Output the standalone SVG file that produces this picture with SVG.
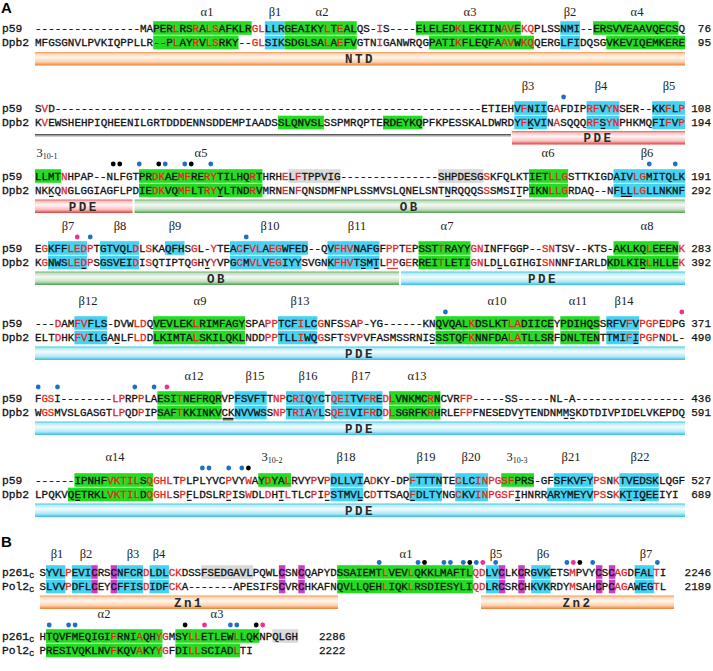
<svg xmlns="http://www.w3.org/2000/svg" width="713" height="671" viewBox="0 0 713 671">
<defs>
<style>
.s{font-family:"Liberation Mono","DejaVu Sans Mono",monospace;fill:#111;stroke:#111;stroke-width:0.3px}
.r{fill:#E4261E;stroke:#E4261E}
.nm{font-family:"Liberation Mono",monospace;font-size:11.3px;fill:#111;stroke:#111;stroke-width:0.3px}
.num{font-family:"Liberation Mono",monospace;font-size:11px;text-anchor:end;fill:#111;stroke:#111;stroke-width:0.25px}
.num2{font-family:"Liberation Mono",monospace;font-size:11px;fill:#111;stroke:#111;stroke-width:0.25px}
.ss{font-family:"Liberation Serif",serif;font-size:12.5px;text-anchor:middle;fill:#222}
.bl{font-family:"Liberation Mono",monospace;font-size:12.5px;font-weight:bold;letter-spacing:2.5px;text-anchor:middle;fill:#2a2a2a}
.pl{font-family:"Liberation Sans",Arial,sans-serif;font-size:15px;font-weight:bold;fill:#000}
.hg{fill:#22DD22}.hc{fill:#45D3F3}.hm{fill:#C63FC6}.hy{fill:#D9D9D9}
.db{fill:#1F70C1}.dk{fill:#000}.dm{fill:#F0308F}
.ul{fill:#000}
</style>
<linearGradient id="gOr" x1="0" y1="0" x2="0" y2="1"><stop offset="0" stop-color="#F29A50"/><stop offset="0.15" stop-color="#FBD8BC"/><stop offset="0.4" stop-color="#FFF6EE"/><stop offset="0.75" stop-color="#FAD0AE"/><stop offset="1" stop-color="#EF7D28"/></linearGradient>
<linearGradient id="gRd" x1="0" y1="0" x2="0" y2="1"><stop offset="0" stop-color="#EE5A5A"/><stop offset="0.15" stop-color="#F9C4C4"/><stop offset="0.4" stop-color="#FFF5F5"/><stop offset="0.75" stop-color="#F8BDBD"/><stop offset="1" stop-color="#E23A3A"/></linearGradient>
<linearGradient id="gCy" x1="0" y1="0" x2="0" y2="1"><stop offset="0" stop-color="#3CCBEA"/><stop offset="0.15" stop-color="#B6ECF8"/><stop offset="0.4" stop-color="#F4FCFF"/><stop offset="0.75" stop-color="#B4E8F6"/><stop offset="1" stop-color="#2EC0E6"/></linearGradient>
<linearGradient id="gGn" x1="0" y1="0" x2="0" y2="1"><stop offset="0" stop-color="#6CB46C"/><stop offset="0.15" stop-color="#C4E2C4"/><stop offset="0.4" stop-color="#F5FAF5"/><stop offset="0.75" stop-color="#C2DEC2"/><stop offset="1" stop-color="#4E9E4E"/></linearGradient>
</defs>
<rect width="713" height="671" fill="#fff"/>
<text class="pl" x="1" y="13">A</text>

<!-- Block A1 -->
<g id="blockA1" transform="translate(0,28)">
<g transform="translate(35 0) scale(6.566 1)">
<rect class="hg" x="18" y="-6.8" width="15" height="13.6"/><rect class="hc" x="35" y="-6.8" width="3" height="13.6"/><rect class="hg" x="38" y="-6.8" width="11" height="13.6"/><rect class="hg" x="58" y="-6.8" width="16" height="13.6"/><rect class="hc" x="80" y="-6.8" width="3" height="13.6"/><rect class="hg" x="85" y="-6.8" width="13" height="13.6"/>
<rect class="hg" x="18" y="7.7" width="13" height="13.6"/><rect class="hc" x="35" y="7.7" width="3" height="13.6"/><rect class="hg" x="38" y="7.7" width="11" height="13.6"/><rect class="hg" x="60" y="7.7" width="16" height="13.6"/><rect class="hc" x="80" y="7.7" width="3" height="13.6"/><rect class="hg" x="87" y="7.7" width="12" height="13.6"/>
</g>
<text class="ss" x="207" y="-12">α1</text><text class="ss" x="275" y="-12">β1</text><text class="ss" x="322" y="-12">α2</text><text class="ss" x="470" y="-12">α3</text><text class="ss" x="570" y="-12">β2</text><text class="ss" x="637" y="-12">α4</text>
<text class="nm" x="2" y="3.7">p59</text><text class="nm" x="2" y="18.2">Dpb2</text>
<text class="s" x="35" y="3.7" style="font-size:10.94px">----------------MAPER<tspan class="r">L</tspan>RS<tspan class="r">R</tspan>A<tspan class="r">LS</tspan>AFKLR<tspan class="r">GL</tspan>LLRGEAIKY<tspan class="r">L</tspan>T<tspan class="r">E</tspan>ALQS-<tspan class="r">I</tspan>S----ELELED<tspan class="r">K</tspan>LEKIIN<tspan class="r">AV</tspan>E<tspan class="r">KQ</tspan>PLSSNMI--ERSVVEAAVQECSQ</text>
<text class="s" x="35" y="18.2" style="font-size:10.94px">MFGSGNVLPVKIQPPLLR--P<tspan class="r">L</tspan>AY<tspan class="r">R</tspan>V<tspan class="r">LS</tspan>RKY--<tspan class="r">GL</tspan>SIKSDGLSA<tspan class="r">L</tspan>A<tspan class="r">E</tspan>FVGTN<tspan class="r">I</tspan>GANWRQGPATI<tspan class="r">K</tspan>FLEQFA<tspan class="r">AV</tspan>W<tspan class="r">KQ</tspan>QERGLFIDQSGVKEVIQEMKERE</text>
<text class="num" x="711" y="3.7">76</text><text class="num" x="711" y="18.2">95</text>
<rect x="35" y="24" width="650" height="13.5" fill="url(#gOr)"/><text class="bl" x="360" y="35.3">NTD</text>
</g>

<!-- Block A2 -->
<g id="blockA2" transform="translate(0,108)">
<g transform="translate(35 0) scale(6.566 1)">
<rect class="hc" x="73" y="-6.8" width="5" height="13.6"/><rect class="hc" x="84" y="-6.8" width="5" height="13.6"/><rect class="hc" x="94" y="-6.8" width="5" height="13.6"/>
<rect class="hg" x="37" y="7.7" width="7" height="13.6"/><rect class="hg" x="53" y="7.7" width="6" height="13.6"/><rect class="hc" x="73" y="7.7" width="5" height="13.6"/><rect class="hc" x="84" y="7.7" width="5" height="13.6"/><rect class="hc" x="94" y="7.7" width="5" height="13.6"/>
<rect class="ul" x="75.15" y="19.8" width="0.7" height="1.1"/><rect class="ul" x="86.15" y="19.8" width="0.7" height="1.1"/>
</g>
<text class="ss" x="528" y="-18">β3</text><text class="ss" x="601" y="-18">β4</text><text class="ss" x="669" y="-18">β5</text>
<circle class="db" cx="563.6" cy="-11" r="2.4"/>
<text class="nm" x="2" y="3.7">p59</text><text class="nm" x="2" y="18.2">Dpb2</text>
<text class="s" x="35" y="3.7" style="font-size:10.94px">S<tspan class="r">V</tspan>D-----------------------------------------------------------------ETIEHV<tspan class="r">F</tspan>NIIG<tspan class="r">A</tspan>FDIP<tspan class="r">RF</tspan>V<tspan class="r">YN</tspan>SER--KK<tspan class="r">F</tspan>L<tspan class="r">P</tspan></text>
<text class="s" x="35" y="18.2" style="font-size:10.94px">K<tspan class="r">V</tspan>EWSHEHPIQHEENILGRTDDDENNSDDEMPIAADSSLQNVSLSSPMRQPTERDEYKQPFKPESSKALDWRDY<tspan class="r">F</tspan>KVIN<tspan class="r">A</tspan>SQQQ<tspan class="r">RF</tspan>S<tspan class="r">YN</tspan>PHKMQFI<tspan class="r">F</tspan>V<tspan class="r">P</tspan></text>
<text class="num" x="711" y="3.7">108</text><text class="num" x="711" y="18.2">194</text>
<rect x="35" y="26" width="476" height="1.6" fill="#5a5a5a"/><rect x="35" y="27.6" width="476" height="1" fill="#b0b0b0"/>
<rect x="512" y="23" width="173" height="13.5" fill="url(#gRd)"/><text class="bl" x="598.5" y="34.3">PDE</text>
</g>

<!-- Block A3 -->
<g id="blockA3" transform="translate(0,176)">
<g transform="translate(35 0) scale(6.5 1)">
<rect class="hg" x="0" y="-6.8" width="4" height="13.6"/><rect class="hg" x="16" y="-6.8" width="19" height="13.6"/><rect class="hy" x="39" y="-6.8" width="8" height="13.6"/><rect class="hy" x="62" y="-6.8" width="7" height="13.6"/><rect class="hg" x="76" y="-6.8" width="6" height="13.6"/><rect class="hc" x="89" y="-6.8" width="11" height="13.6"/>
<rect class="hg" x="16" y="7.7" width="19" height="13.6"/><rect class="hg" x="76" y="7.7" width="6" height="13.6"/><rect class="hc" x="89" y="7.7" width="11" height="13.6"/>
<rect class="ul" x="2.15" y="19.8" width="0.7" height="1.1"/><rect class="ul" x="28.15" y="19.8" width="0.7" height="1.1"/><rect class="ul" x="63.15" y="19.8" width="0.7" height="1.1"/><rect class="ul" x="74.15" y="19.8" width="0.7" height="1.1"/><rect class="ul" x="90.15" y="19.8" width="1.7" height="1.1"/>
</g>
<text class="ss" x="47" y="-19">3<tspan font-size="8" dy="2">10-1</tspan></text><text class="ss" x="201" y="-19">α5</text><text class="ss" x="548" y="-19">α6</text><text class="ss" x="647" y="-19">β6</text>
<circle class="dk" cx="113.25" cy="-12" r="2.4"/><circle class="dk" cx="119.75" cy="-12" r="2.4"/><circle class="db" cx="139.25" cy="-12" r="2.4"/><circle class="dk" cx="158.75" cy="-12" r="2.4"/><circle class="db" cx="165.25" cy="-12" r="2.4"/><circle class="db" cx="184.75" cy="-12" r="2.4"/><circle class="dk" cx="191.25" cy="-12" r="2.4"/><circle class="db" cx="210.75" cy="-12" r="2.4"/><circle class="db" cx="649.25" cy="-12" r="2.4"/><circle class="db" cx="675.25" cy="-12" r="2.4"/>
<text class="nm" x="2" y="3.7">p59</text><text class="nm" x="2" y="18.2">Dpb2</text>
<text class="s" x="35" y="3.7" style="font-size:10.833px">LLMT<tspan class="r">N</tspan>HPAP--NLFGTPR<tspan class="r">DK</tspan>AE<tspan class="r">MF</tspan>RE<tspan class="r">RY</tspan>TILHQ<tspan class="r">R</tspan>THRH<tspan class="r">E</tspan>L<tspan class="r">F</tspan>TPPVIG---------------SHPDESG<tspan class="r">S</tspan>KFQLKTIET<tspan class="r">LLG</tspan>STTKIGDAIV<tspan class="r">LG</tspan>MITQLK</text>
<text class="s" x="35" y="18.2" style="font-size:10.833px">NKKQ<tspan class="r">N</tspan>GLGGIAGFLPDIE<tspan class="r">DK</tspan>VQ<tspan class="r">MF</tspan>LT<tspan class="r">RY</tspan>YLTND<tspan class="r">R</tspan>VMRN<tspan class="r">E</tspan>N<tspan class="r">F</tspan>QNSDMFNPLSSMVSLQNELSNTNRQQQS<tspan class="r">S</tspan>SMSITPIKN<tspan class="r">LLG</tspan>RDAQ--NFLL<tspan class="r">LG</tspan>LLNKNF</text>
<text class="num" x="711" y="3.7">191</text><text class="num" x="711" y="18.2">292</text>
<rect x="35" y="23.5" width="97.5" height="13.5" fill="url(#gRd)"/><text class="bl" x="83.75" y="34.8">PDE</text>
<rect x="134.5" y="23.5" width="550.5" height="13.5" fill="url(#gGn)"/><text class="bl" x="409.75" y="34.8">OB</text>
</g>

<!-- Block A4 -->
<g id="blockA4" transform="translate(0,248)">
<g transform="translate(35 0) scale(6.5 1)">
<rect class="hc" x="2" y="-6.8" width="6" height="13.6"/><rect class="hc" x="10" y="-6.8" width="6" height="13.6"/><rect class="hc" x="20" y="-6.8" width="3" height="13.6"/><rect class="hc" x="30" y="-6.8" width="12" height="13.6"/><rect class="hc" x="45" y="-6.8" width="8" height="13.6"/><rect class="hg" x="59" y="-6.8" width="8" height="13.6"/><rect class="hg" x="89" y="-6.8" width="10" height="13.6"/>
<rect class="hc" x="2" y="7.7" width="6" height="13.6"/><rect class="hc" x="10" y="7.7" width="6" height="13.6"/><rect class="hc" x="30" y="7.7" width="11" height="13.6"/><rect class="hc" x="45" y="7.7" width="8" height="13.6"/><rect class="hg" x="59" y="7.7" width="8" height="13.6"/><rect class="hg" x="88" y="7.7" width="11" height="13.6"/>
<rect class="ul" x="7.15" y="19.8" width="0.7" height="1.1"/><rect class="ul" x="26.15" y="19.8" width="0.7" height="1.1"/><rect class="ul" x="50.15" y="19.8" width="0.7" height="1.1"/><rect class="ul" x="52.15" y="19.8" width="0.7" height="1.1"/><rect x="54.15" y="19.8" width="1.7" height="1.1" fill="#E4261E"/><rect class="ul" x="71.15" y="19.8" width="0.7" height="1.1"/><rect class="ul" x="93.15" y="19.8" width="0.7" height="1.1"/>
</g>
<text class="ss" x="68" y="-18">β7</text><text class="ss" x="120" y="-18">β8</text><text class="ss" x="175" y="-18">β9</text><text class="ss" x="270" y="-18">β10</text><text class="ss" x="357" y="-18">β11</text><text class="ss" x="447" y="-18">α7</text><text class="ss" x="647" y="-18">α8</text>
<circle class="dm" cx="77.25" cy="-11" r="2.4"/><circle class="db" cx="90.25" cy="-11" r="2.4"/><circle class="db" cx="246.25" cy="-11" r="2.4"/>
<text class="nm" x="2" y="3.7">p59</text><text class="nm" x="2" y="18.2">Dpb2</text>
<text class="s" x="35" y="3.7" style="font-size:10.833px">E<tspan class="r">G</tspan>KFF<tspan class="r">LEDP</tspan>TGTVQL<tspan class="r">D</tspan>L<tspan class="r">S</tspan>KAQFHS<tspan class="r">G</tspan>L-<tspan class="r">Y</tspan>TEA<tspan class="r">C</tspan>F<tspan class="r">VL</tspan>A<tspan class="r">EG</tspan>WFED--QV<tspan class="r">FHV</tspan>NAFGF<tspan class="r">PP</tspan>T<tspan class="r">E</tspan>PSST<tspan class="r">T</tspan>RAYY<tspan class="r">GN</tspan>INFFGGP--<tspan class="r">SN</tspan>TSV--KTS-AKLKQ<tspan class="r">L</tspan>EEEN<tspan class="r">K</tspan></text>
<text class="s" x="35" y="18.2" style="font-size:10.833px">K<tspan class="r">G</tspan>NWS<tspan class="r">LEDP</tspan>SGSVEI<tspan class="r">D</tspan>I<tspan class="r">S</tspan>QTIPTQ<tspan class="r">G</tspan>HY<tspan class="r">Y</tspan>VPG<tspan class="r">C</tspan>M<tspan class="r">VL</tspan>V<tspan class="r">EG</tspan>IYYSVGNK<tspan class="r">FHV</tspan>TSMTL<tspan class="r">PP</tspan>G<tspan class="r">E</tspan>RREI<tspan class="r">T</tspan>LETI<tspan class="r">GN</tspan>LDLLGIHGI<tspan class="r">SN</tspan>NNFIARLDKDLKIR<tspan class="r">L</tspan>HLLE<tspan class="r">K</tspan></text>
<text class="num" x="711" y="3.7">283</text><text class="num" x="711" y="18.2">392</text>
<rect x="35" y="23.5" width="364" height="13.5" fill="url(#gGn)"/><text class="bl" x="217" y="34.8">OB</text>
<rect x="401" y="23.5" width="284" height="13.5" fill="url(#gCy)"/><text class="bl" x="543" y="34.8">PDE</text>
</g>

<!-- Block A5 -->
<g id="blockA5" transform="translate(0,323)">
<g transform="translate(35 0) scale(6.566 1)">
<rect class="hc" x="6" y="-6.8" width="5" height="13.6"/><rect class="hg" x="18" y="-6.8" width="14" height="13.6"/><rect class="hc" x="37" y="-6.8" width="6" height="13.6"/><rect class="hg" x="61" y="-6.8" width="18" height="13.6"/><rect class="hg" x="80" y="-6.8" width="6" height="13.6"/><rect class="hc" x="87" y="-6.8" width="5" height="13.6"/>
<rect class="hc" x="6" y="7.7" width="5" height="13.6"/><rect class="hg" x="18" y="7.7" width="14" height="13.6"/><rect class="hc" x="37" y="7.7" width="6" height="13.6"/><rect class="hg" x="61" y="7.7" width="18" height="13.6"/><rect class="hg" x="80" y="7.7" width="6" height="13.6"/><rect class="hc" x="87" y="7.7" width="5" height="13.6"/>
<rect class="ul" x="12.15" y="19.8" width="0.7" height="1.1"/><rect class="ul" x="60.15" y="19.8" width="0.7" height="1.1"/><rect class="ul" x="91.15" y="19.8" width="0.7" height="1.1"/>
</g>
<text class="ss" x="88" y="-18">β12</text><text class="ss" x="200" y="-18">α9</text><text class="ss" x="300" y="-18">β13</text><text class="ss" x="497" y="-18">α10</text><text class="ss" x="578" y="-18">α11</text><text class="ss" x="624" y="-18">β14</text>
<circle class="db" cx="445.4" cy="-11" r="2.4"/><circle class="dm" cx="681.8" cy="-11" r="2.4"/>
<text class="nm" x="2" y="3.7">p59</text><text class="nm" x="2" y="18.2">Dpb2</text>
<text class="s" x="35" y="3.7" style="font-size:10.94px">---<tspan class="r">D</tspan>AM<tspan class="r">FV</tspan>FLS-DVW<tspan class="r">LD</tspan>QVEVLEK<tspan class="r">L</tspan>RIMFAGYSPA<tspan class="r">PP</tspan>TCF<tspan class="r">I</tspan>LC<tspan class="r">G</tspan>NFS<tspan class="r">S</tspan>A<tspan class="r">P</tspan>-YG------KNQVQAL<tspan class="r">K</tspan>DSLKT<tspan class="r">LA</tspan>DIICEYPDIHQSSRFV<tspan class="r">F</tspan>V<tspan class="r">PGP</tspan>E<tspan class="r">D</tspan>PG</text>
<text class="s" x="35" y="18.2" style="font-size:10.94px">ELT<tspan class="r">D</tspan>HK<tspan class="r">FV</tspan>ILGANLF<tspan class="r">LD</tspan>DLKIMTA<tspan class="r">L</tspan>SKILQKLNDD<tspan class="r">PP</tspan>TLL<tspan class="r">I</tspan>WQ<tspan class="r">G</tspan>SFT<tspan class="r">S</tspan>V<tspan class="r">P</tspan>VFASMSSRNISSSTQF<tspan class="r">K</tspan>NNFDA<tspan class="r">LA</tspan>TLLSRFDNLTENTTMI<tspan class="r">F</tspan>I<tspan class="r">PGP</tspan>N<tspan class="r">D</tspan>L-</text>
<text class="num" x="711" y="3.7">371</text><text class="num" x="711" y="18.2">490</text>
<rect x="35" y="23.5" width="650" height="13.5" fill="url(#gCy)"/><text class="bl" x="360" y="34.8">PDE</text>
</g>

<!-- Block A6 -->
<g id="blockA6" transform="translate(0,398)">
<g transform="translate(35 0) scale(6.436 1)">
<rect class="hg" x="19" y="-6.8" width="10" height="13.6"/><rect class="hc" x="31" y="-6.8" width="5" height="13.6"/><rect class="hc" x="39" y="-6.8" width="6" height="13.6"/><rect class="hc" x="46" y="-6.8" width="8" height="13.6"/><rect class="hg" x="55" y="-6.8" width="8" height="13.6"/>
<rect class="hg" x="19" y="7.7" width="10" height="13.6"/><rect class="hc" x="31" y="7.7" width="5" height="13.6"/><rect class="hc" x="39" y="7.7" width="6" height="13.6"/><rect class="hc" x="46" y="7.7" width="8" height="13.6"/><rect class="hg" x="55" y="7.7" width="8" height="13.6"/>
<rect class="ul" x="29.15" y="19.8" width="1.7" height="1.1"/><rect class="ul" x="29.15" y="21.4" width="1.7" height="0.9"/><rect class="ul" x="75.15" y="19.8" width="0.7" height="1.1"/><rect class="ul" x="82.15" y="19.8" width="0.7" height="1.1"/><rect class="ul" x="83.15" y="19.8" width="0.7" height="1.1"/>
</g>
<text class="ss" x="194" y="-18">α12</text><text class="ss" x="255" y="-18">β15</text><text class="ss" x="308" y="-18">β16</text><text class="ss" x="361" y="-18">β17</text><text class="ss" x="417" y="-18">α13</text>
<circle class="db" cx="38.2" cy="-11" r="2.4"/><circle class="db" cx="57.5" cy="-11" r="2.4"/><circle class="db" cx="134.8" cy="-11" r="2.4"/><circle class="db" cx="154.1" cy="-11" r="2.4"/><circle class="dm" cx="166.9" cy="-11" r="2.4"/>
<text class="nm" x="2" y="3.7">p59</text><text class="nm" x="2" y="18.2">Dpb2</text>
<text class="s" x="35" y="3.7" style="font-size:10.727px">F<tspan class="r">GS</tspan>I--------<tspan class="r">LP</tspan>RP<tspan class="r">P</tspan>LAESI<tspan class="r">T</tspan>NEFRQRVPFSVFTT<tspan class="r">NP</tspan>C<tspan class="r">RI</tspan>Q<tspan class="r">Y</tspan>CT<tspan class="r">QEI</tspan>TV<tspan class="r">FR</tspan>E<tspan class="r">DL</tspan>VNKMC<tspan class="r">R</tspan>NCVR<tspan class="r">FP</tspan>-----SS-----NL-A-----------------</text>
<text class="s" x="35" y="18.2" style="font-size:10.727px">W<tspan class="r">GS</tspan>MVSLGASGT<tspan class="r">LP</tspan>QD<tspan class="r">P</tspan>IPSAF<tspan class="r">T</tspan>KKINKVCKNVVWSS<tspan class="r">NP</tspan>T<tspan class="r">RI</tspan>A<tspan class="r">Y</tspan>LS<tspan class="r">QEI</tspan>VI<tspan class="r">FR</tspan>D<tspan class="r">DL</tspan>SGRFK<tspan class="r">R</tspan>HRLE<tspan class="r">FP</tspan>FNESEDVYTENDNMMSKDTDIVPIDELVKEPDQ</text>
<text class="num" x="711" y="3.7">436</text><text class="num" x="711" y="18.2">591</text>
<rect x="35" y="23.5" width="650" height="13.5" fill="url(#gCy)"/><text class="bl" x="360" y="34.8">PDE</text>
</g>

<!-- Block A7 -->
<g id="blockA7" transform="translate(0,480)">
<g transform="translate(35 0) scale(6.566 1)">
<rect class="hg" x="6" y="-6.8" width="12" height="13.6"/><rect class="hg" x="34" y="-6.8" width="5" height="13.6"/><rect class="hc" x="45" y="-6.8" width="5" height="13.6"/><rect class="hc" x="57" y="-6.8" width="5" height="13.6"/><rect class="hc" x="64" y="-6.8" width="5" height="13.6"/><rect class="hg" x="71" y="-6.8" width="5" height="13.6"/><rect class="hc" x="79" y="-6.8" width="6" height="13.6"/><rect class="hc" x="89" y="-6.8" width="6" height="13.6"/>
<rect class="hg" x="5" y="7.7" width="13" height="13.6"/><rect class="hc" x="45" y="7.7" width="5" height="13.6"/><rect class="hc" x="57" y="7.7" width="5" height="13.6"/><rect class="hc" x="64" y="7.7" width="5" height="13.6"/><rect class="hc" x="78" y="7.7" width="7" height="13.6"/><rect class="hc" x="89" y="7.7" width="6" height="13.6"/>
<rect class="ul" x="6.15" y="19.8" width="0.7" height="1.1"/><rect class="ul" x="23.15" y="19.8" width="0.7" height="1.1"/><rect class="ul" x="29.15" y="19.8" width="0.7" height="1.1"/><rect class="ul" x="37.15" y="19.8" width="0.7" height="1.1"/><rect class="ul" x="44.15" y="19.8" width="0.7" height="1.1"/><rect class="ul" x="49.15" y="19.8" width="0.7" height="1.1"/><rect class="ul" x="57.15" y="19.8" width="0.7" height="1.1"/><rect class="ul" x="73.15" y="19.8" width="0.7" height="1.1"/><rect class="ul" x="90.15" y="19.8" width="0.7" height="1.1"/><rect class="ul" x="92.15" y="19.8" width="0.7" height="1.1"/>
</g>
<text class="ss" x="115" y="-19">α14</text><text class="ss" x="272" y="-19">3<tspan font-size="8" dy="2">10-2</tspan></text><text class="ss" x="346" y="-19">β18</text><text class="ss" x="426" y="-19">β19</text><text class="ss" x="471" y="-19">β20</text><text class="ss" x="517" y="-19">3<tspan font-size="8" dy="2">10-3</tspan></text><text class="ss" x="571" y="-19">β21</text><text class="ss" x="640" y="-19">β22</text>
<circle class="db" cx="202.4" cy="-12" r="2.4"/><circle class="db" cx="209" cy="-12" r="2.4"/><circle class="db" cx="228.7" cy="-12" r="2.4"/><circle class="db" cx="241.8" cy="-12" r="2.4"/><circle class="dk" cx="248.4" cy="-12" r="2.4"/>
<text class="nm" x="2" y="3.7">p59</text><text class="nm" x="2" y="18.2">Dpb2</text>
<text class="s" x="35" y="3.7" style="font-size:10.94px">------IPNHF<tspan class="r">VKTIL</tspan>S<tspan class="r">QGHL</tspan>T<tspan class="r">P</tspan>LPLYVC<tspan class="r">P</tspan>VY<tspan class="r">W</tspan>AY<tspan class="r">D</tspan>YA<tspan class="r">L</tspan>RVY<tspan class="r">P</tspan>V<tspan class="r">P</tspan>DLLVIA<tspan class="r">D</tspan>KY-DP<tspan class="r">F</tspan>TTTNTE<tspan class="r">C</tspan>LC<tspan class="r">INPGSF</tspan>PRS-GFSFKVFY<tspan class="r">PS</tspan>N<tspan class="r">K</tspan>TVEDSKLQGF</text>
<text class="s" x="35" y="18.2" style="font-size:10.94px">LPQKVQETRKL<tspan class="r">VKTIL</tspan>D<tspan class="r">QGHL</tspan>S<tspan class="r">P</tspan>FLDSLR<tspan class="r">P</tspan>IS<tspan class="r">W</tspan>DL<tspan class="r">D</tspan>HT<tspan class="r">L</tspan>TLC<tspan class="r">P</tspan>I<tspan class="r">P</tspan>STMVLC<tspan class="r">D</tspan>TTSAQ<tspan class="r">F</tspan>DLTYNG<tspan class="r">C</tspan>KV<tspan class="r">INPGSF</tspan>IHNRRARYMEYV<tspan class="r">PS</tspan>S<tspan class="r">K</tspan>KTIQEEIYI</text>
<text class="num" x="711" y="3.7">527</text><text class="num" x="711" y="18.2">689</text>
<rect x="35" y="23.5" width="650" height="13.5" fill="url(#gCy)"/><text class="bl" x="360" y="34.8">PDE</text>
</g>

<text class="pl" x="1" y="547">B</text>

<!-- Block B1 -->
<g id="blockB1" transform="translate(0,572)">
<g transform="translate(39.5 0) scale(6.47 1)">
<rect class="hc" x="1" y="-6.8" width="3" height="13.6"/><rect class="hc" x="5" y="-6.8" width="3" height="13.6"/><rect class="hm" x="8" y="-6.8" width="1" height="13.6"/><rect class="hm" x="11" y="-6.8" width="1" height="13.6"/><rect class="hc" x="12" y="-6.8" width="4" height="13.6"/><rect class="hc" x="17" y="-6.8" width="3" height="13.6"/><rect class="hy" x="25" y="-6.8" width="8" height="13.6"/><rect class="hm" x="37" y="-6.8" width="1" height="13.6"/><rect class="hm" x="40" y="-6.8" width="1" height="13.6"/><rect class="hg" x="46" y="-6.8" width="21" height="13.6"/><rect class="hc" x="69" y="-6.8" width="2" height="13.6"/><rect class="hm" x="71" y="-6.8" width="1" height="13.6"/><rect class="hm" x="74" y="-6.8" width="1" height="13.6"/><rect class="hc" x="76" y="-6.8" width="3" height="13.6"/><rect class="hm" x="86" y="-6.8" width="1" height="13.6"/><rect class="hm" x="88" y="-6.8" width="1" height="13.6"/><rect class="hc" x="92" y="-6.8" width="3" height="13.6"/>
<rect class="hc" x="1" y="7.7" width="3" height="13.6"/><rect class="hc" x="5" y="7.7" width="3" height="13.6"/><rect class="hm" x="8" y="7.7" width="1" height="13.6"/><rect class="hm" x="11" y="7.7" width="1" height="13.6"/><rect class="hc" x="12" y="7.7" width="4" height="13.6"/><rect class="hc" x="17" y="7.7" width="3" height="13.6"/><rect class="hm" x="37" y="7.7" width="1" height="13.6"/><rect class="hm" x="40" y="7.7" width="1" height="13.6"/><rect class="hg" x="46" y="7.7" width="21" height="13.6"/><rect class="hc" x="69" y="7.7" width="2" height="13.6"/><rect class="hm" x="71" y="7.7" width="1" height="13.6"/><rect class="hm" x="74" y="7.7" width="1" height="13.6"/><rect class="hc" x="76" y="7.7" width="3" height="13.6"/><rect class="hm" x="86" y="7.7" width="1" height="13.6"/><rect class="hm" x="88" y="7.7" width="1" height="13.6"/><rect class="hc" x="92" y="7.7" width="3" height="13.6"/>
</g>
<text class="ss" x="57" y="-14">β1</text><text class="ss" x="86" y="-14">β2</text><text class="ss" x="133" y="-14">β3</text><text class="ss" x="159" y="-14">β4</text><text class="ss" x="406" y="-14">α1</text><text class="ss" x="496" y="-14">β5</text><text class="ss" x="543" y="-14">β6</text><text class="ss" x="646" y="-14">β7</text>
<circle class="db" cx="379.2" cy="-9.5" r="2.4"/><circle class="db" cx="418" cy="-9.5" r="2.4"/><circle class="dk" cx="424.5" cy="-9.5" r="2.4"/><circle class="db" cx="443.9" cy="-9.5" r="2.4"/><circle class="db" cx="450.4" cy="-9.5" r="2.4"/><circle class="db" cx="463.3" cy="-9.5" r="2.4"/><circle class="dk" cx="469.8" cy="-9.5" r="2.4"/><circle class="db" cx="476.3" cy="-9.5" r="2.4"/><circle class="dm" cx="482.8" cy="-9.5" r="2.4"/><circle class="db" cx="495.7" cy="-9.5" r="2.4"/><circle class="db" cx="566.9" cy="-9.5" r="2.4"/><circle class="dm" cx="573.3" cy="-9.5" r="2.4"/><circle class="dk" cx="579.8" cy="-9.5" r="2.4"/><circle class="db" cx="592.7" cy="-9.5" r="2.4"/><circle class="db" cx="657.4" cy="-9.5" r="2.4"/>
<text class="nm" x="2" y="3.7">p261<tspan font-size="8" dy="2">C</tspan></text><text class="nm" x="2" y="18.2">Pol2<tspan font-size="8" dy="2">C</tspan></text>
<text class="s" x="39.5" y="3.7" style="font-size:10.783px">SYVL<tspan class="r">P</tspan>EVICRSCNFCR<tspan class="r">D</tspan>LDL<tspan class="r">CK</tspan>DSSFSEDGAVLPQWLCSNCQAPYDSSAIEMT<tspan class="r">L</tspan>VEV<tspan class="r">L</tspan>QKKLMAFTL<tspan class="r">QD</tspan>LVCLKCRGVKETS<tspan class="r">M</tspan>PVYCSC<tspan class="r">AG</tspan>DFAL<tspan class="r">T</tspan>I</text>
<text class="s" x="39.5" y="18.2" style="font-size:10.783px">SLVV<tspan class="r">P</tspan>DFLCEYCFFIS<tspan class="r">D</tspan>IDF<tspan class="r">CK</tspan>A-------APESIFSCVRCHKAFNQVLLQEH<tspan class="r">L</tspan>IQK<tspan class="r">L</tspan>RSDIESYLI<tspan class="r">QD</tspan>LRCSRCHKVKRDY<tspan class="r">M</tspan>SAHCPC<tspan class="r">AG</tspan>AWEG<tspan class="r">T</tspan>L</text>
<text class="num" x="711" y="3.7">2246</text><text class="num" x="711" y="18.2">2189</text>
<rect x="40" y="23.5" width="298" height="13.5" fill="url(#gOr)"/><text class="bl" x="189" y="34.8">Zn1</text>
<rect x="481" y="23.5" width="193" height="13.5" fill="url(#gOr)"/><text class="bl" x="577.5" y="34.8">Zn2</text>
</g>

<!-- Block B2 -->
<g id="blockB2" transform="translate(0,636)">
<g transform="translate(39.5 0) scale(6.47 1)">
<rect class="hg" x="1" y="-6.8" width="18" height="13.6"/><rect class="hg" x="21" y="-6.8" width="13" height="13.6"/><rect class="hy" x="36" y="-6.8" width="4" height="13.6"/>
<rect class="hg" x="1" y="7.7" width="18" height="13.6"/><rect class="hg" x="21" y="7.7" width="10" height="13.6"/>
</g>
<text class="ss" x="104" y="-18">α2</text><text class="ss" x="217" y="-18">α3</text>
<circle class="db" cx="49.2" cy="-11" r="2.4"/><circle class="db" cx="68.6" cy="-11" r="2.4"/><circle class="db" cx="75.1" cy="-11" r="2.4"/><circle class="dk" cx="185.1" cy="-11" r="2.4"/><circle class="dm" cx="204.5" cy="-11" r="2.4"/><circle class="db" cx="230.4" cy="-11" r="2.4"/><circle class="db" cx="236.8" cy="-11" r="2.4"/><circle class="dk" cx="256.2" cy="-11" r="2.4"/><circle class="dm" cx="262.7" cy="-11" r="2.4"/>
<text class="nm" x="2" y="3.7">p261<tspan font-size="8" dy="2">C</tspan></text><text class="nm" x="2" y="18.2">Pol2<tspan font-size="8" dy="2">C</tspan></text>
<text class="s" x="39.5" y="3.7" style="font-size:10.783px">HTQVFMEQIGI<tspan class="r">F</tspan>RNI<tspan class="r">A</tspan>QH<tspan class="r">YG</tspan>MSY<tspan class="r">LL</tspan>ETLEW<tspan class="r">L</tspan>LQKNPQLGH</text>
<text class="s" x="39.5" y="18.2" style="font-size:10.783px">PRESIVQKLNV<tspan class="r">F</tspan>KQV<tspan class="r">A</tspan>KY<tspan class="r">YG</tspan>FDI<tspan class="r">LL</tspan>SCIAD<tspan class="r">L</tspan>TI</text>
<text class="num2" x="319" y="3.7">2286</text><text class="num2" x="319" y="18.2">2222</text>
</g>
</svg>
